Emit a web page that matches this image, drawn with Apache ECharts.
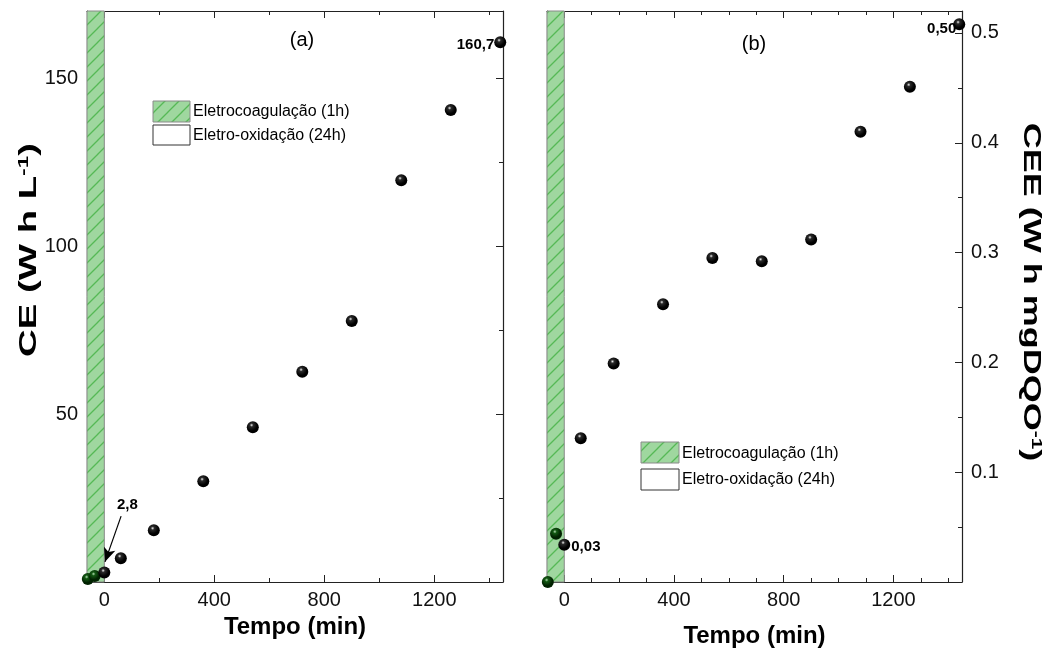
<!DOCTYPE html>
<html><head><meta charset="utf-8">
<script src="https://cdn.jsdelivr.net/npm/echarts@6/dist/echarts.min.js"></script>
<style>html,body{margin:0;padding:0;background:#fff}#c{width:1046px;height:655px}</style>
</head><body><div id="c"></div>
<script>
// ---- data ----
const timeA = [-60, -35, 0, 60, 180, 360, 540, 720, 900, 1080, 1260, 1440];
const ceA = [0.9, 1.8, 2.8, 7.1, 15.4, 30.0, 46.1, 62.6, 77.7, 119.6, 140.5, 160.7];
const timeB = [-60, -30, 0, 60, 180, 360, 540, 720, 900, 1080, 1260, 1440];
const ceeB = [0.0, 0.044, 0.034, 0.131, 0.199, 0.253, 0.295, 0.292, 0.312, 0.410, 0.451, 0.508];
const labelA = {0: '2,8', 1440: '160,7'};
const labelB = {0: '0,03', 1440: '0,50'};
const xTicks = [0, 400, 800, 1200];
const xMinorA = [200, 600, 1000, 1400];
const xMinorB = [100, 200, 300, 500, 600, 700, 900, 1000, 1100, 1300, 1400];
const yTicksA = [50, 100, 150];
const yMinorA = [25, 75, 125];
const yTicksB = [0.1, 0.2, 0.3, 0.4, 0.5];
const yMinorB = [0.05, 0.15, 0.25, 0.35, 0.45];
const legendNames = ['Eletrocoagulação (1h)', 'Eletro-oxidação (24h)'];
const xTitle = 'Tempo (min)';
const yTitleA = ['CE (W h L', '-1', ')'];
const yTitleB = ['CEE (W h mgDQO', '-1', ')'];
const xRange = [-63, 1450];
const yRangeA = [0, 170];
const yRangeB = [0, 0.52];
const arrowA = [[61, 19.6], [2.5, 6.0]];

// ---- styles ----
const FONT = 'Liberation Sans, Arial, sans-serif';
const AX = '#222';
function hatch() {
  const c = document.createElement('canvas');
  c.width = 14; c.height = 14;
  const g = c.getContext('2d');
  g.fillStyle = '#9fd79f'; g.fillRect(0, 0, 14, 14);
  g.strokeStyle = '#56b956'; g.lineWidth = 1.3;
  g.beginPath();
  g.moveTo(-2, 16); g.lineTo(16, -2);
  g.moveTo(-9, 9); g.lineTo(9, -9);
  g.moveTo(5, 23); g.lineTo(23, 5);
  g.stroke();
  return {image: c, repeat: 'repeat'};
}
const PAT = hatch();
function sphere(dark, mid, hi) {
  return {type: 'radial', x: 0.4, y: 0.33, r: 0.68,
    colorStops: [{offset: 0, color: hi}, {offset: 0.22, color: mid}, {offset: 0.7, color: dark}, {offset: 1, color: dark}]};
}
const BLACK = sphere('#000', '#2a2a2a', '#f0f0f0');
const GREEN = sphere('#012201', '#145a14', '#b5deb5');

function xAx(grid, pos, ticks, len, line, labels, name, gap) {
  return {
    type: 'value', gridIndex: grid, position: pos, min: xRange[0], max: xRange[1],
    axisLine: {show: line, onZero: false, lineStyle: {color: AX, width: 1.2}},
    axisTick: {show: true, inside: true, length: len, customValues: ticks, lineStyle: {color: AX, width: 1}},
    axisLabel: labels ? {show: true, customValues: ticks, fontSize: 20, color: '#111', fontFamily: FONT, margin: 8, formatter: v => String(v)} : {show: false},
    splitLine: {show: false},
    name: name || '', nameLocation: 'middle', nameGap: gap || 0,
    nameTextStyle: {fontSize: 24, fontWeight: 'bold', color: '#000', fontFamily: FONT}
  };
}
function yAx(grid, pos, range, ticks, len, line, labels) {
  return {
    type: 'value', gridIndex: grid, position: pos, min: range[0], max: range[1],
    axisLine: {show: line, onZero: false, lineStyle: {color: AX, width: 1.2}},
    axisTick: {show: true, inside: true, length: len, customValues: ticks, lineStyle: {color: AX, width: 1}},
    axisLabel: labels ? {show: true, customValues: ticks, fontSize: 20, color: '#111', fontFamily: FONT, margin: 9, formatter: v => String(+(+v).toFixed(2))} : {show: false},
    splitLine: {show: false}
  };
}

function build(times, vals, labels, offsets) {
  const eco = [], eo = [];
  times.forEach((t, i) => {
    const item = {value: [t, vals[i]]};
    if (labels[t] !== undefined) {
      item.label = Object.assign({show: true, formatter: labels[t], fontSize: 15, fontWeight: 'bold', color: '#000', fontFamily: FONT}, offsets[t]);
    }
    (t < 0 ? eco : eo).push(item);
  });
  return {eco, eo};
}
const dA = build(timeA, ceA, labelA, {
  0: {position: 'inside', offset: [23, -68]},
  1440: {position: 'left', distance: 0, offset: [0, 3]}
});
const dB = build(timeB, ceeB, labelB, {
  0: {position: 'right', distance: 1, offset: [0, 2]},
  1440: {position: 'left', distance: -3, offset: [0, 5]}
});

const bandStyle = {color: PAT, borderColor: '#8a8a8a', borderWidth: 1};
const ptStyle = c => ({color: c, opacity: 1});

const richSup = {s: {fontSize: 14, fontWeight: 'bold', fill: '#000', fontFamily: FONT, verticalAlign: 'top', lineHeight: 24}};
function yTitle(x, y, rot, sx, parts) {
  return {type: 'text', x: x, y: y, rotation: rot, scaleX: sx, z: 10,
    style: {text: parts[0] + '{s|' + parts[1] + '}' + parts[2], fontSize: 24, fontWeight: 'bold', fontFamily: FONT, fill: '#000',
      align: 'center', verticalAlign: 'middle', rich: richSup}};
}

const option = {
  backgroundColor: '#fff',
  animation: false,
  grid: [
    {left: 87, right: 1046 - 503, top: 11, bottom: 73},
    {left: 547, right: 1046 - 962, top: 11, bottom: 73}
  ],
  xAxis: [
    xAx(0, 'bottom', xTicks, 7, true, true, xTitle, 33),
    xAx(0, 'bottom', xMinorA, 4, false, false),
    xAx(0, 'top', xTicks, 7, true, false),
    xAx(0, 'top', xMinorA, 4, false, false),
    xAx(1, 'bottom', xTicks, 7, true, true, xTitle, 42),
    xAx(1, 'bottom', xMinorB, 4, false, false),
    xAx(1, 'top', xTicks, 7, true, false),
    xAx(1, 'top', xMinorB, 4, false, false)
  ],
  yAxis: [
    yAx(0, 'left', yRangeA, yTicksA, 7, true, true),
    yAx(0, 'left', yRangeA, yMinorA, 4, false, false),
    yAx(0, 'right', yRangeA, yTicksA, 7, true, false),
    yAx(0, 'right', yRangeA, yMinorA, 4, false, false),
    yAx(1, 'right', yRangeB, yTicksB, 7, true, true),
    yAx(1, 'right', yRangeB, yMinorB, 4, false, false),
    yAx(1, 'left', yRangeB, yTicksB, 7, true, false),
    yAx(1, 'left', yRangeB, yMinorB, 4, false, false)
  ],
  series: [
    {type: 'scatter', xAxisIndex: 0, yAxisIndex: 0, symbolSize: 12, z: 3, data: dA.eco,
      itemStyle: ptStyle(GREEN),
      markArea: {silent: true, z: 1, itemStyle: bandStyle, data: [[{xAxis: xRange[0]}, {xAxis: 0}]]}},
    {type: 'scatter', xAxisIndex: 0, yAxisIndex: 0, symbolSize: 12, z: 4, data: dA.eo,
      itemStyle: ptStyle(BLACK),
      markLine: {silent: true, symbol: ['none', 'arrow'], symbolSize: [9, 14],
        lineStyle: {color: '#000', width: 1.2, type: 'solid', opacity: 1}, label: {show: false},
        data: [[{coord: arrowA[0]}, {coord: arrowA[1]}]]}},
    {type: 'scatter', xAxisIndex: 4, yAxisIndex: 4, symbolSize: 12, z: 3, data: dB.eco,
      itemStyle: ptStyle(GREEN),
      markArea: {silent: true, z: 1, itemStyle: bandStyle, data: [[{xAxis: xRange[0]}, {xAxis: 0}]]}},
    {type: 'scatter', xAxisIndex: 4, yAxisIndex: 4, symbolSize: 12, z: 4, data: dB.eo,
      itemStyle: ptStyle(BLACK)}
  ],
  graphic: [
    {type: 'text', x: 302, y: 40, style: {text: '(a)', fontSize: 20, fontFamily: FONT, fill: '#000', align: 'center', verticalAlign: 'middle'}},
    {type: 'text', x: 754, y: 44, style: {text: '(b)', fontSize: 20, fontFamily: FONT, fill: '#000', align: 'center', verticalAlign: 'middle'}},
    yTitle(29, 250, Math.PI / 2, 1.6, yTitleA),
    yTitle(1031, 292, -Math.PI / 2, 1.5, yTitleB),
    {type: 'rect', shape: {x: 153, y: 101, width: 37, height: 21}, style: {fill: PAT, stroke: '#8a8a8a', lineWidth: 1}},
    {type: 'rect', shape: {x: 153, y: 125, width: 37, height: 20}, style: {fill: '#fff', stroke: '#333', lineWidth: 1}},
    {type: 'text', x: 193, y: 112, style: {text: legendNames[0], fontSize: 16, fontFamily: FONT, fill: '#000', verticalAlign: 'middle'}},
    {type: 'text', x: 193, y: 135.5, style: {text: legendNames[1], fontSize: 16, fontFamily: FONT, fill: '#000', verticalAlign: 'middle'}},
    {type: 'rect', shape: {x: 641, y: 442, width: 38, height: 21}, style: {fill: PAT, stroke: '#8a8a8a', lineWidth: 1}},
    {type: 'rect', shape: {x: 641, y: 469, width: 38, height: 21}, style: {fill: '#fff', stroke: '#333', lineWidth: 1}},
    {type: 'text', x: 682, y: 453.5, style: {text: legendNames[0], fontSize: 16, fontFamily: FONT, fill: '#000', verticalAlign: 'middle'}},
    {type: 'text', x: 682, y: 480, style: {text: legendNames[1], fontSize: 16, fontFamily: FONT, fill: '#000', verticalAlign: 'middle'}}
  ]
};
const chart = echarts.init(document.getElementById('c'), null, {renderer: 'canvas'});
chart.setOption(option);
</script>
</body></html>
